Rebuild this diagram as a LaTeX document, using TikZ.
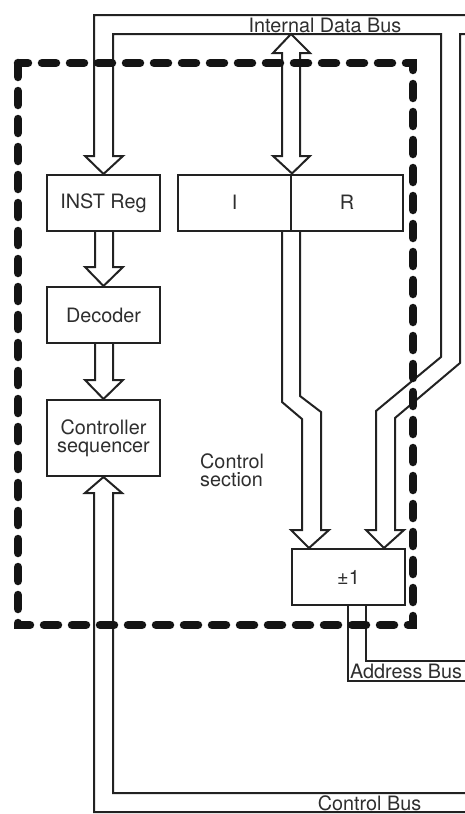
\documentclass[tikz,border=0pt]{standalone}
\usepackage{fontspec}
\setmainfont{TeX Gyre Heros}
\usetikzlibrary{calc}
\definecolor{linec}{HTML}{222222}
\definecolor{dashc}{HTML}{141414}
\definecolor{textc}{HTML}{2E2E2E}
\tikzset{
  bus/.style={draw=linec, line width=2pt, line join=miter, line cap=butt},
  regbox/.style={draw=linec, line width=2pt, fill=white, inner sep=0pt,
     minimum width=113pt, minimum height=56pt, align=center, text=textc,
     font=\fontsize{19.8}{18}\selectfont},
  lbl/.style={inner sep=0pt, text=textc, font=\fontsize{19.8}{18}\selectfont, align=left},
  frame/.style={draw=dashc, line width=8.5pt, line cap=round, dash pattern=on 14pt off 14pt}
}
\begin{document}
\begin{tikzpicture}[x=1pt,y=-1pt]
\useasboundingbox (0,0) rectangle (465,814);
% boxes
\node[regbox] (inst) at (103.5,203) {INST Reg};
\node[regbox] (dec) at (103.5,315) {Decoder};
\node[regbox, minimum height=76pt] (ctrl) at (103.5,438) {Controller\\sequencer};
\node[regbox, minimum width=113pt] (regi) at (234.5,202.5) {I};
\node[regbox, minimum width=112pt] (regr) at (347,202.5) {R};
\node[regbox] (pm) at (348.5,577) {±1};
% labels
\node[lbl] (idb) at (325,25) {Internal Data Bus};
\node[lbl, anchor=west] (ab) at (350,671) {Address Bus};
\node[lbl] (cb) at (369.5,803) {Control Bus};
\node[lbl, anchor=north west] (cs) at (200,454) {Control\\section};
% internal data bus with INST Reg arrow and the bus to the +-1 unit
\draw[bus] (465,15) -- (94,15) -- (94,156) -- (85,156) -- (inst.north) -- (123,156) -- (113,156)
  -- (113,34) -- (441,34) -- (441,357) -- (376,411) -- (376,530) -- (366,530)
  -- ($(pm.north west)+(93,0)$) -- (404,530) -- (395,530) -- (395,418) -- (460,363) -- (460,34) -- (465,34);
% double arrow bus <-> I/R
\draw[bus] (282,53) -- (273,53) -- (291,34) -- (310,53) -- (300,53) -- (300,156) -- (310,156)
  -- (regi.north east) -- (273,156) -- (282,156) -- cycle;
% INST -> Decoder
\draw[bus] (inst.south -| 95,0) -- (95,267) -- (85,267) -- (dec.north) -- (123,267) -- (113,267) -- (inst.south -| 113,0);
% Decoder -> Controller
\draw[bus] (dec.south -| 95,0) -- (95,380) -- (85,380) -- (ctrl.north) -- (123,380) -- (113,380) -- (dec.south -| 113,0);
% Control bus -> Controller
\draw[bus] (465,812) -- (94,812) -- (94,493) -- (85,493) -- (ctrl.south) -- (122,493) -- (113,493) -- (113,793) -- (465,793);
% I/R -> +-1
\draw[bus] (regi.south east -| 282,0) -- (282,402) -- (302,419) -- (302,530) -- (291,530)
  -- ($(pm.north west)+(18,0)$) -- (329,530) -- (321,530) -- (321,412) -- (300,396) -- (regi.south east -| 300,0);
% address bus
\draw[bus] (pm.south -| 348,0) -- (348,681) -- (465,681);
\draw[bus] (pm.south -| 366,0) -- (366,661) -- (465,661);
% control section frame
\draw[frame] (18,63) rectangle (413,625);
\end{tikzpicture}
\end{document}
